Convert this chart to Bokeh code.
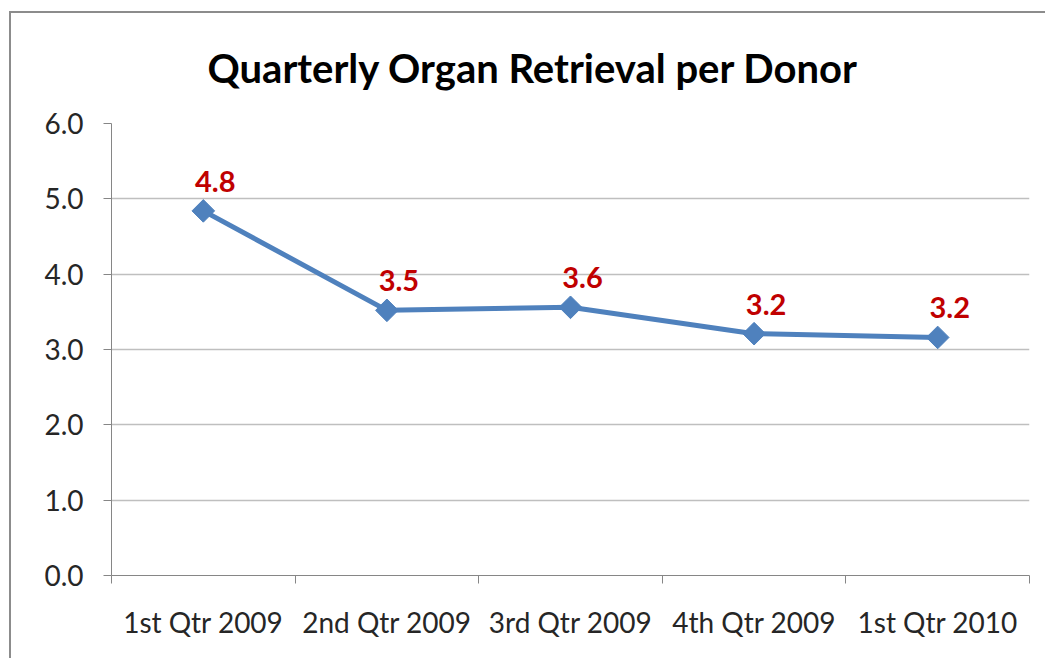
import math
from bokeh.plotting import figure
from bokeh.models import FixedTicker, Range1d, ColumnDataSource, LabelSet
from bokeh.core.properties import value
from bokeh.embed import file_html
from bokeh.resources import INLINE

categories = ["1st Qtr 2009", "2nd Qtr 2009", "3rd Qtr 2009", "4th Qtr 2009", "1st Qtr 2010"]
values = [4.84, 3.52, 3.56, 3.21, 3.16]
labels = ["4.8", "3.5", "3.6", "3.2", "3.2"]
y_ticks = [0, 1, 2, 3, 4, 5, 6]

FONT = "Lato"
xs = [i + 0.5 for i in range(len(categories))]

src = ColumnDataSource(dict(x=xs, y=values, lab=labels))

p = figure(width=1036, height=647, output_backend="svg", toolbar_location=None,
           x_range=Range1d(0, len(categories)), y_range=Range1d(0, 6),
           min_border_left=100, min_border_right=18, min_border_top=110, min_border_bottom=85)
p.styles = {"border-left": "2px solid #8c8c8c", "border-top": "2px solid #8c8c8c",
            "margin-left": "9px", "margin-top": "11px"}

p.title.text = "Quarterly Organ Retrieval per  Donor"
p.title.text_font = FONT
p.title.text_font_size = "40px"
p.title.text_font_style = "bold"
p.title.text_color = "#000000"
p.title.align = "left"
p.title.vertical_align = "top"
p.title.offset = 96
p.title.standoff = 60

p.outline_line_color = None
p.background_fill_color = "white"
p.border_fill_color = "white"

# x axis: labels at centers, ticks at boundaries
p.xaxis.ticker = FixedTicker(ticks=xs, minor_ticks=list(range(len(categories) + 1)))
p.xaxis.major_label_overrides = {x: c for x, c in zip(xs, categories)}
p.xaxis.major_tick_line_color = None
p.xaxis.minor_tick_line_color = "#868686"
p.xaxis.minor_tick_out = 8
p.xaxis.minor_tick_in = 0
p.xaxis.axis_line_color = "#868686"
p.xaxis.major_label_text_font = FONT
p.xaxis.major_label_text_font_size = "28px"
p.xaxis.major_label_text_color = "#262626"
p.xaxis.major_label_standoff = 21
p.xgrid.grid_line_color = None

p.yaxis.ticker = FixedTicker(ticks=y_ticks)
p.yaxis.major_label_overrides = {t: f"{t:.1f}" for t in y_ticks}
p.yaxis.axis_line_color = "#868686"
p.yaxis.major_tick_line_color = "#868686"
p.yaxis.major_tick_out = 8
p.yaxis.major_tick_in = 0
p.yaxis.minor_tick_line_color = None
p.yaxis.major_label_text_font = FONT
p.yaxis.major_label_text_font_size = "28px"
p.yaxis.major_label_text_color = "#262626"
p.yaxis.major_label_standoff = 20
p.ygrid.grid_line_color = "#bfbfbf"
p.ygrid.grid_line_width = 1.5

p.line("x", "y", source=src, line_color="#4F81BD", line_width=5)
p.scatter("x", "y", source=src, marker="square", size=16, angle=math.pi / 4,
          fill_color="#4F81BD", line_color="#4F81BD")

p.add_layout(LabelSet(x="x", y="y", text="lab", source=src, x_offset=12, y_offset=19,
                      text_align="center", text_baseline="bottom",
                      text_font=value(FONT), text_font_size="29px", text_font_style="bold",
                      text_color="#C00000"))

open("out.html", "w").write(file_html(p, INLINE))
